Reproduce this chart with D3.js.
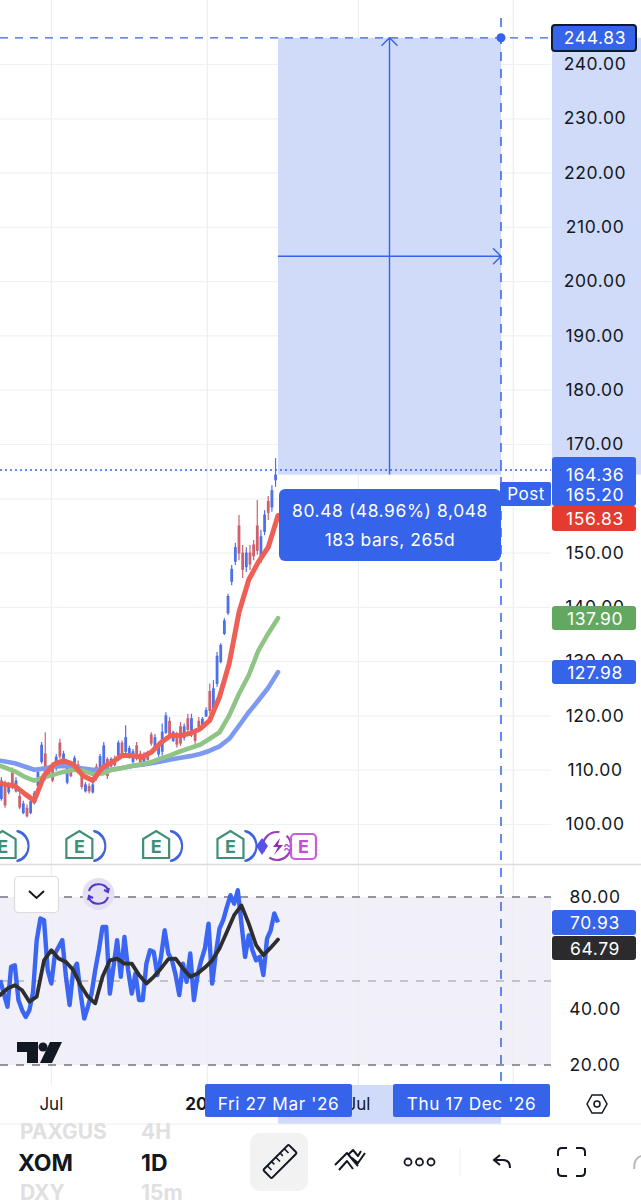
<!DOCTYPE html>
<head>
  <meta charset="utf-8">
  <title>XOM 1D</title>
  <script src="https://cdn.jsdelivr.net/npm/d3@7"></script>
</head>

<style>
  body {
    margin: 0;
    background: #fff;
  }

  svg {
    display: block;
  }

  text {
    font-family: Inter, Roboto, sans-serif;
  }

  .axis-label text, .tag {
    font-size: 17.5px;
    letter-spacing: 0.6px;
    text-anchor: middle;
  }

  .grid line {
    stroke: #eff1f6;
    stroke-width: 1.2;
  }

  .grid path, .axis-label path {
    display: none;
  }
</style>

<body>
  <svg id='chart' width='641' height='1200'></svg>
</body>

<script>

// all candle and line arrays run newest first, bars_back counts back from the 27 Mar '26 bar
var candle_high = [167.4,162.4,160.4,157.8,154.2,159.7,152.3,151.4,151,151.4,156.9,151.8,147.7,142.4,137.9,133.3,131.7,126.5,125.9,121.5,119.7,119.7,117.5,120.3,120.3,118.5,118.8,117,117.2,119.7,120.6,118.5,115.1,116.6,116.9,113.5,113.2,113.5,115.1,113.8,114.4,118.2,115.4,115.4,112.6,112.3,112.3,115.1,112.9,111.1,107.7,107.5,107.7,109.8,111.7,112.6,111.1,111.1,113.5,115.7,112.9,111.1,110.7,116.9,115.1,110.1,106.1,104.6,103.6,104.3,105.8,108.6,110.4,107.7,108,108.6];
var candle_low = [162.1,157.5,156,153.2,148.1,149.6,148.6,146.8,146.4,145.3,148.6,147.7,144,138.5,134.8,129.6,125.3,120,120.3,119.7,117.8,117.5,114.8,116,116.9,115.4,114.4,114.1,115.1,115.7,116.6,112.6,112.4,113.8,114.4,111.7,110.6,111.1,111.7,111.1,112,112.9,112.3,112,110.6,110.4,108.3,110.4,109.8,108,105.6,105.6,105.8,106.4,109.2,109.8,108.6,107.3,110.4,112,109.8,107.7,108.6,108,111.1,106.7,103.6,101.8,101.2,101.8,102.7,105.8,106.4,105.5,103,104.3];
var candle_open = [163.5,158.5,159.5,154,149,155,151.5,150,147.5,150,155,148.5,144.8,139,135.2,130,126,121,124.5,120,118.2,119,117,116.5,119.5,116,118,116.5,115.5,119,117,113.5,113,114.3,116.5,113.2,111,113,114.5,111.6,112.5,113.5,115,112.4,112,110.8,112,111,110.4,110.6,106,107,106.2,109,111,110.3,110.6,107.8,111,115,110.4,110.6,109,113,111.6,107.2,104,102.2,103,102.2,105.2,106.2,109.5,106,107.4,104.8];
var candle_close = [164.36,161.5,157.5,157,153,150.5,149.5,148,150,147,150,151,147,142,137.5,133,131,125,121,121,119.4,118,115.5,119.5,117.5,118,115,114.8,117,116.2,120,117,114.8,116,115,112,112.8,111.6,112.2,113.4,114,116,113,115,111,112,109,114.5,112.5,108.6,107.3,106.2,107.3,107,109.8,112.2,109,110.6,113,112.6,112.4,108.2,110.3,109,114.6,109.6,105.7,104.2,101.6,103.8,103.2,108,107,107.2,103.6,108];

// moving averages, one reading every 8 bars
var ma_red = [156.83,151,148.3,145,139,129.6,123.4,119.1,117.5,116.7,116.3,116.3,115,113.2,112.3,112.6,112.6,111.4,110.4,108,108.9,111,111.7,111,108.9,104.3,105.6,107,107.3,107.7];
var ma_green = [137.9,135.1,132,127.4,124,120,116.9,115.7,114.6,114,113.4,112.7,112.1,111.4,111,110.7,110.3,110,109.3,109.2,109.8,110,109.6,109.1,108.6,108,108.7,109.7,110.4,111];
var ma_blue = [127.98,125.1,122.8,120.6,118.1,115.7,114.3,113.5,112.9,112.5,112.2,111.9,111.5,111.2,110.9,110.7,110.3,110,110,110,110.2,110.6,110.7,110.6,110.2,110,110.6,111.2,111.5,111.8];

// rsi every 3 bars, its average every 6 bars
var rsi_values = [70.93,74.1,68.1,65.1,52.1,58.6,57.4,61,66.3,58.6,70.5,82.4,77.6,80.6,76.4,71.7,68.7,59.8,49.1,70.5,61.6,57.4,52.1,43.2,59.8,49.7,56.2,45,52.1,57.4,59.8,68.1,58.6,52.1,60.4,61,56.2,43.2,43.2,52.7,45.5,53.9,65.7,51.5,64.6,55.1,45.5,69.3,69.3,61,53.9,45.5,40.8,36.6,45.5,56.2,53.9,41.4,51.5,64.6,62.2,59.8,49.1,53.9,71.7,72.3,64.6,46.1,39.6,37.2,39.6,43.2,55.6,55.1,40.8,45.5,50.3];
var rsi_average = [64.79,61.9,59.2,62.8,70.5,77,73.5,67.5,61.6,57.4,54.8,52.7,51.5,54.5,58,57.8,54.5,51.5,49.1,52.1,56.2,56.2,58,57.4,51.5,42,44.4,48.5,53.9,56.8,58,61,57.4,44.4,42.6,46.7,48.5,47.3,45];

var price_ticks = [240,230,220,210,200,190,180,170,150,140,130,120,110,100];
var price_grid = [240,230,220,210,200,190,180,170,160,150,140,130,120,110,100];
var rsi_ticks = [80,40,20];
var rsi_grid = [60,40];
var rsi_dashed = [80,50,20];
var month_bars = [186,58,-66,-193];
var month_labels = [{bar: 186, text: 'Jul', bold: false}, {bar: 58, text: '2026', bold: true}, {bar: -66, text: 'Jul', bold: false}];
var earnings_bars = [39,100,163,226];

var measure_low = 164.36,
    post_price = 165.2,
    measure_high = 244.83,
    measure_bars = 183;

var price_tags = [
  {lines: ['164.36', '165.20'], colour: '#3563e9', h: 49, y: 457, first: 24},
  {lines: ['156.83'], colour: '#e63a2e', h: 25, y: 506, first: 18.5},
  {lines: ['137.90'], colour: '#62a860', h: 24, y: 606, first: 18.5},
  {lines: ['127.98'], colour: '#3563e9', h: 24, y: 660, first: 18.5}
];

var blue = '#3563e9',
    shade = '#d0dbf9',
    plot_right = 551,
    axis_mid = 595;

var svg = d3.select('#chart');

var x = d3.scaleLinear().domain([0, measure_bars]).range([278, 501]);
var x_back = function(bars) { return 278 - (x(bars) - 278); };
var y = d3.scaleLinear().domain([100, 240]).range([824, 64]);
var y_rsi = d3.scaleLinear().domain([20, 80]).range([1065, 897]);

// rsi pane background
svg.append('rect')
  .attr('x', 0).attr('width', plot_right)
  .attr('y', y_rsi(80)).attr('height', y_rsi(20) - y_rsi(80))
  .attr('fill', '#f1eff8');

// grid
svg.append('g').attr('class', 'grid')
  .call(d3.axisRight(y).tickValues(price_grid).tickSize(plot_right).tickFormat(''));
svg.append('g').attr('class', 'grid')
  .call(d3.axisRight(y_rsi).tickValues(rsi_grid).tickSize(plot_right).tickFormat(''));

svg.selectAll('.v-grid')
  .data(month_bars)
  .enter()
  .append('line')
  .attr('class', 'v-grid')
  .attr('x1', x_back).attr('x2', x_back)
  .attr('y1', 0).attr('y2', 1085)
  .attr('stroke', '#eceef3')
  .attr('stroke-width', 1.2);

svg.append('line')
  .attr('x1', 0).attr('x2', 641)
  .attr('y1', 864.5).attr('y2', 864.5)
  .attr('stroke', '#dcdcdf')
  .attr('stroke-width', 1.5);

svg.selectAll('.rsi-band')
  .data(rsi_dashed)
  .enter()
  .append('line')
  .attr('class', 'rsi-band')
  .attr('x1', 0).attr('x2', plot_right)
  .attr('y1', y_rsi).attr('y2', y_rsi)
  .attr('stroke', function(d) { return d == 50 ? '#b5b3ba' : '#77767c'; })
  .attr('stroke-width', 1.3)
  .attr('stroke-dasharray', '8,8');

// measure box and its shadow on both axes
svg.append('rect')
  .attr('x', x(0)).attr('width', x(measure_bars) - x(0))
  .attr('y', y(measure_high)).attr('height', y(measure_low) - y(measure_high))
  .attr('fill', shade);
svg.append('rect')
  .attr('x', plot_right + 1).attr('width', 641 - plot_right)
  .attr('y', y(measure_high)).attr('height', y(measure_low) - y(measure_high))
  .attr('fill', shade);
svg.append('rect')
  .attr('x', x(0)).attr('width', x(measure_bars) - x(0))
  .attr('y', 1085).attr('height', 39)
  .attr('fill', shade);

// candles
var candle_data = candle_high.map(function(h, i) {
  return {bar: 2 + i * 3, high: h, low: candle_low[i], open: candle_open[i], close: candle_close[i]};
});

var candles = svg.selectAll('.candle')
  .data(candle_data)
  .enter()
  .append('g')
  .attr('class', 'candle')
  .attr('opacity', 0.9);

function candle_colour(d) { return d.close >= d.open ? '#3a62e6' : '#c8505e'; }

candles.append('line')
  .attr('x1', function(d) { return x_back(d.bar); })
  .attr('x2', function(d) { return x_back(d.bar); })
  .attr('y1', function(d) { return y(d.high); })
  .attr('y2', function(d) { return y(d.low); })
  .attr('stroke', candle_colour)
  .attr('stroke-width', 1.2);

candles.append('rect')
  .attr('x', function(d) { return x_back(d.bar) - 1.4; })
  .attr('width', 2.8)
  .attr('y', function(d) { return y(Math.max(d.open, d.close)); })
  .attr('height', function(d) { return Math.abs(y(d.open) - y(d.close)) + 1; })
  .attr('fill', candle_colour);

// lines
var ma_line = d3.line()
  .x(function(d, i) { return x_back(i * 8); })
  .y(function(d) { return y(d); });

[[ma_blue, '#7d9af0', 4.6], [ma_green, '#90c487', 4.6], [ma_red, '#ee5f55', 5]].forEach(function(s) {
  svg.append('path')
    .datum(s[0])
    .attr('d', ma_line)
    .attr('fill', 'none')
    .attr('stroke', s[1])
    .attr('stroke-linecap', 'round')
    .attr('stroke-linejoin', 'round')
    .attr('stroke-width', s[2]);
});

var rsi_line = d3.line()
  .x(function(d, i) { return x_back(i * 3); })
  .y(function(d) { return y_rsi(d); });

var rsi_avg_line = d3.line()
  .x(function(d, i) { return x_back(i * 6); })
  .y(function(d) { return y_rsi(d); });

svg.append('path')
  .datum(rsi_values)
  .attr('d', rsi_line)
  .attr('fill', 'none')
  .attr('stroke', '#3a66f2')
  .attr('stroke-linejoin', 'round')
  .attr('stroke-width', 4.4);

svg.append('path')
  .datum(rsi_average)
  .attr('d', rsi_avg_line)
  .attr('fill', 'none')
  .attr('stroke', '#2e2e2e')
  .attr('stroke-linecap', 'round')
  .attr('stroke-linejoin', 'round')
  .attr('stroke-width', 3.8);

// earnings markers
var earnings = svg.selectAll('.earn')
  .data(earnings_bars)
  .enter()
  .append('g')
  .attr('class', 'earn')
  .attr('transform', function(d) { return 'translate(' + x_back(d) + ',846)'; });

earnings.append('path')
  .attr('d', 'M14,-15 A16,15.5 0 0 1 14,15 A12,15 0 0 0 14,-15')
  .attr('fill', '#3f63df')
  .attr('stroke', '#3f63df')
  .attr('stroke-width', 2);
earnings.append('path')
  .attr('d', 'M-13,-7 L0,-15 L13,-7 L13,12 L-13,12 Z')
  .attr('fill', '#fff')
  .attr('stroke', '#3f8f76')
  .attr('stroke-width', 2.2);
earnings.append('text')
  .attr('y', 6.5)
  .attr('text-anchor', 'middle')
  .attr('font-size', 18)
  .attr('font-weight', 700)
  .attr('fill', '#3f8f76')
  .text('E');

svg.append('circle').attr('cx', 277).attr('cy', 846).attr('r', 14)
  .attr('fill', '#fff').attr('stroke', '#9a3fb5').attr('stroke-width', 2.2)
  .attr('stroke-dasharray', '30,8');
svg.append('path').attr('d', 'M280,838 L273,847 L278,847 L274,855 L283,845 L278,845 Z').attr('fill', '#8e2fb0');
svg.append('path').attr('d', 'M256,846 L262,838 L268,846 L262,855 Z').attr('fill', '#5a52e8');
svg.append('rect').attr('x', 291).attr('y', 834).attr('width', 25).attr('height', 25).attr('rx', 4)
  .attr('fill', '#fff').attr('stroke', '#cc5be0').attr('stroke-width', 2.2);
svg.append('text').attr('x', 303.5).attr('y', 852.5).attr('text-anchor', 'middle')
  .attr('font-size', 18).attr('font-weight', 700).attr('fill', '#c24fd8').text('E');
svg.append('text').attr('x', 288).attr('y', 852).attr('text-anchor', 'middle')
  .attr('font-size', 15).attr('fill', '#b04fd0').text('≈');

// measure cross hairs
svg.append('line').attr('x1', 0).attr('x2', plot_right).attr('y1', y(measure_high)).attr('y2', y(measure_high))
  .attr('stroke', blue).attr('stroke-width', 1.3).attr('stroke-dasharray', '8,7');
svg.append('line').attr('x1', x(measure_bars)).attr('x2', x(measure_bars)).attr('y1', 18).attr('y2', 1085)
  .attr('stroke', blue).attr('stroke-width', 1.5).attr('stroke-dasharray', '9,8');
svg.append('line').attr('x1', 0).attr('x2', plot_right).attr('y1', y(post_price)).attr('y2', y(post_price))
  .attr('stroke', blue).attr('stroke-width', 1.5).attr('stroke-dasharray', '2,3');
svg.append('circle').attr('cx', x(measure_bars)).attr('cy', y(measure_high)).attr('r', 4.5).attr('fill', blue);

var mid_x = x(measure_bars / 2);
svg.append('path')
  .attr('d', 'M' + mid_x + ',' + y(measure_low) + ' V' + y(measure_high) + ' m-8,8 l8,-8 l8,8')
  .attr('fill', 'none').attr('stroke', blue).attr('stroke-width', 1.4);
var mid_y = y((measure_low + measure_high) / 2);
svg.append('path')
  .attr('d', 'M' + x(0) + ',' + mid_y + ' H' + x(measure_bars) + ' m-8,-8 l8,8 l-8,8')
  .attr('fill', 'none').attr('stroke', blue).attr('stroke-width', 1.4);

// measure tooltip
svg.append('rect').attr('x', 279).attr('y', 489).attr('width', 222).attr('height', 72).attr('rx', 6).attr('fill', blue);
svg.append('text').attr('x', 390).attr('y', 517).attr('text-anchor', 'middle')
  .attr('font-size', 17.4).attr('letter-spacing', 0.6).attr('fill', '#fff').text('80.48 (48.96%) 8,048');
svg.append('text').attr('x', 390).attr('y', 546).attr('text-anchor', 'middle')
  .attr('font-size', 17.4).attr('letter-spacing', 0.6).attr('fill', '#fff').text('183 bars, 265d');

svg.append('rect').attr('x', 500).attr('y', 482).attr('width', 51).attr('height', 24).attr('rx', 2).attr('fill', blue);
svg.append('text').attr('x', 526).attr('y', 500).attr('text-anchor', 'middle')
  .attr('font-size', 17).attr('letter-spacing', 0.5).attr('fill', '#fff').text('Post');

// price axes
svg.append('g').attr('class', 'axis-label')
  .call(d3.axisRight(y).tickValues(price_ticks).tickSize(0).tickFormat(d3.format('.2f')))
  .selectAll('text').attr('x', axis_mid).attr('fill', '#131722');

svg.append('g').attr('class', 'axis-label')
  .call(d3.axisRight(y_rsi).tickValues(rsi_ticks).tickSize(0).tickFormat(d3.format('.2f')))
  .selectAll('text').attr('x', axis_mid).attr('fill', '#131722');

// tags
function add_tag(lines, top, h, colour, first, edge) {
  var g = svg.append('g');
  g.append('rect').attr('x', 552).attr('y', top).attr('width', 84).attr('height', h).attr('rx', 3)
    .attr('fill', colour)
    .attr('stroke', edge || 'none')
    .attr('stroke-width', edge ? 2 : 0);
  lines.forEach(function(t, i) {
    g.append('text').attr('class', 'tag').attr('x', axis_mid)
      .attr('y', top + first + i * 19.5).attr('fill', '#fff').text(t);
  });
}

add_tag(['244.83'], 25, 26, blue, 19, '#111a33');
price_tags.forEach(function(t) { add_tag(t.lines, t.y, t.h, t.colour, t.first); });
add_tag(['70.93'], 910, 25, blue, 18.5);
add_tag(['64.79'], 936, 24, '#2b2b2e', 18.5);

// time axis
svg.selectAll('.month')
  .data(month_labels)
  .enter()
  .append('text')
  .attr('class', 'month')
  .attr('x', function(d) { return x_back(d.bar); })
  .attr('y', 1110)
  .attr('text-anchor', 'middle')
  .attr('font-size', 17)
  .attr('font-weight', function(d) { return d.bold ? 700 : 400; })
  .attr('fill', '#131722')
  .text(function(d) { return d.text; });

[[205, 147, "Fri 27 Mar '26", 278.5], [393, 157, "Thu 17 Dec '26", 471.5]].forEach(function(b) {
  svg.append('rect').attr('x', b[0]).attr('y', 1084).attr('width', b[1]).attr('height', 33).attr('rx', 2).attr('fill', blue);
  svg.append('text').attr('x', b[3]).attr('y', 1110).attr('text-anchor', 'middle')
    .attr('font-size', 17.2).attr('letter-spacing', 0.6).attr('fill', '#fff').text(b[2]);
});

svg.append('path').attr('d', 'M587,1104 L592,1095 L602,1095 L607,1104 L602,1113 L592,1113 Z')
  .attr('fill', 'none').attr('stroke', '#131722').attr('stroke-width', 1.5);
svg.append('circle').attr('cx', 597).attr('cy', 1104).attr('r', 3).attr('fill', 'none').attr('stroke', '#131722').attr('stroke-width', 1.5);

// pane controls
svg.append('rect').attr('x', 14.5).attr('y', 876.5).attr('width', 44).attr('height', 36).attr('rx', 4)
  .attr('fill', '#fff').attr('stroke', '#dcdcdf').attr('stroke-width', 1.2);
svg.append('path').attr('d', 'M29,891 L36.5,898 L44,891').attr('fill', 'none').attr('stroke', '#131722').attr('stroke-width', 2);
svg.append('circle').attr('cx', 98.5).attr('cy', 894).attr('r', 16).attr('fill', '#e4dff3');
svg.append('path').attr('d', 'M89,891 A10,9 0 0 1 108,890 M109,888 L108,892 L104,890 M108,897 A10,9 0 0 1 89,898 M88,900 L89,896 L93,898')
  .attr('fill', 'none').attr('stroke', '#5236c8').attr('stroke-width', 2);

// logo
svg.append('path').attr('d', 'M17,1042 H38 V1063 H27 V1052 H17 Z').attr('fill', '#131722');
svg.append('circle').attr('cx', 43).attr('cy', 1047).attr('r', 4.5).attr('fill', '#131722');
svg.append('path').attr('d', 'M50,1042 H62 L52,1063 H40 Z').attr('fill', '#131722');

// bottom toolbar
svg.append('rect').attr('x', 0).attr('y', 1124).attr('width', 641).attr('height', 76).attr('fill', '#fff');
svg.append('line').attr('x1', 0).attr('x2', 641).attr('y1', 1124).attr('y2', 1124).attr('stroke', '#eeeeef');

[['PAXGUS', 20, 1139, '#e0e0e0', 21], ['4H', 141, 1139, '#e0e0e0', 21], ['XOM', 18, 1171, '#131722', 23], ['1D', 141, 1171, '#131722', 23], ['DXY', 20, 1200, '#e0e0e0', 21], ['15m', 141, 1200, '#e0e0e0', 21]].forEach(function(t) {
  svg.append('text').attr('x', t[1]).attr('y', t[2]).attr('font-size', t[4]).attr('font-weight', 700).attr('fill', t[3]).text(t[0]);
});

svg.append('rect').attr('x', 250).attr('y', 1133).attr('width', 58).attr('height', 58).attr('rx', 10).attr('fill', '#f2f2f2');
var ruler = svg.append('g').attr('transform', 'translate(280,1161.5) rotate(-45)');
ruler.append('rect').attr('x', -18).attr('y', -6).attr('width', 36).attr('height', 12).attr('rx', 1.5)
  .attr('fill', 'none').attr('stroke', '#131722').attr('stroke-width', 2);
[-12, -6, 0, 6, 12].forEach(function(o) {
  ruler.append('line').attr('x1', o).attr('x2', o).attr('y1', -6).attr('y2', o % 12 == 0 ? 0 : -2).attr('stroke', '#131722').attr('stroke-width', 1.6);
});

svg.append('path')
  .attr('d', 'M335,1165 L347,1153 L358,1166 M339,1170 L347,1161 L353,1169 M352,1158 L358,1163 L365,1153 M349,1154 L353,1150 L358,1156 L361,1151')
  .attr('fill', 'none').attr('stroke', '#131722').attr('stroke-width', 2).attr('stroke-linejoin', 'round');

[408, 419.5, 431].forEach(function(cx) {
  svg.append('circle').attr('cx', cx).attr('cy', 1162).attr('r', 3.5).attr('fill', 'none').attr('stroke', '#131722').attr('stroke-width', 1.8);
});
svg.append('line').attr('x1', 460).attr('x2', 460).attr('y1', 1149).attr('y2', 1176).attr('stroke', '#eeeeef');
svg.append('path').attr('d', 'M500,1155 L494,1160 L500,1165 M494,1160 H503 Q510,1160 510,1168')
  .attr('fill', 'none').attr('stroke', '#131722').attr('stroke-width', 2);
svg.append('path').attr('d', 'M558,1156 V1152 Q558,1148 562,1148 H567 M576,1148 H581 Q585,1148 585,1152 V1156 M585,1168 V1172 Q585,1176 581,1176 H576 M567,1176 H562 Q558,1176 558,1172 V1168')
  .attr('fill', 'none').attr('stroke', '#131722').attr('stroke-width', 2);
svg.append('path').attr('d', 'M634,1169 Q634,1158 641,1156').attr('fill', 'none').attr('stroke', '#bbb').attr('stroke-width', 2);

</script>
